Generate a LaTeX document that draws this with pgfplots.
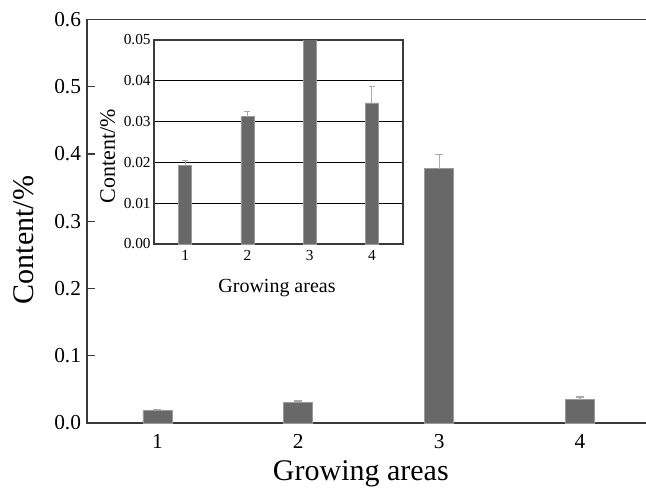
\documentclass[border=0pt]{standalone}
\usepackage{pgfplots}
\pgfplotsset{compat=1.18}
\usepackage{fontspec}
\setmainfont{Liberation Serif}
\definecolor{barfill}{HTML}{686868}
\definecolor{baredge}{HTML}{9A9A9A}
\definecolor{errc}{HTML}{ABABAB}
\definecolor{axc}{HTML}{3A3A3A}
\begin{document}
\begin{tikzpicture}
\begin{axis}[
  name=main,
  at={(0,0)}, anchor=south west,
  scale only axis,
  width=422.6pt, height=302.6pt,
  xmin=0.5, xmax=4.5, ymin=0, ymax=0.6,
  xtick={1,2,3,4}, xtick style={draw=none},
  ytick={0,0.1,0.2,0.3,0.4,0.5,0.6},
  ytick pos=left,
  tick align=inside, major tick length=6pt,
  ytick style={axc, line width=1pt},
  axis line style={axc, line width=1.4pt},
  /pgf/number format/assume math mode=true,
  yticklabel style={/pgf/number format/fixed, /pgf/number format/precision=1, /pgf/number format/fixed zerofill},
  ticklabel style={font=\fontsize{16}{19}\selectfont},
  yticklabel style={xshift=-1pt},
  xticklabel style={yshift=-5pt},
  xlabel={Growing areas},
  ylabel={Content/\%},
  xlabel style={font=\fontsize{22.5}{26}\selectfont, at={(axis description cs:0.486,-0.142)}, anchor=base},
  ylabel style={font=\fontsize{22.5}{26}\selectfont, at={(axis description cs:-0.0958,0.4535)}, anchor=base, rotate=0},
  clip=false,
]
\addplot[ybar, bar width=21.75pt, fill=barfill, draw=baredge, line width=0.5pt,
  error bars/.cd, y dir=plus, y explicit,
  error bar style={errc, line width=0.9pt},
  error mark options={rotate=90, mark size=3pt, errc, line width=0.9pt}]
  coordinates {(1,0.0192) +- (0,0.0013) (2,0.0312) +- (0,0.0014) (3,0.378) +- (0,0.021) (4,0.0346) +- (0,0.0041)};
\end{axis}
\begin{axis}[
  at={(50.25pt,134.25pt)}, anchor=south west,
  scale only axis,
  width=186.75pt, height=153pt,
  xmin=0.5, xmax=4.5, ymin=0, ymax=0.05,
  xtick={1,2,3,4}, xtick style={draw=none},
  ytick={0,0.01,0.02,0.03,0.04,0.05},
  ymajorgrids, grid style={black, line width=0.7pt},
  tick align=inside, major tick length=3pt,
  ytick style={black, line width=0.7pt},
  axis line style={axc, line width=1.1pt},
  axis background/.style={fill=white},
  /pgf/number format/assume math mode=true,
  yticklabel style={/pgf/number format/fixed, /pgf/number format/precision=2, /pgf/number format/fixed zerofill, xshift=1pt},
  scaled y ticks=false,
  ticklabel style={font=\fontsize{11.5}{13}\selectfont},
  xticklabel style={yshift=-1pt},
  xlabel={Growing areas},
  ylabel={Content/\%},
  xlabel style={font=\fontsize{15}{18}\selectfont, at={(axis description cs:0.494,-0.240)}, anchor=base},
  ylabel style={font=\fontsize{16.5}{19}\selectfont, at={(axis description cs:-0.157,0.429)}, anchor=base, rotate=0},
]
\addplot[ybar, bar width=9.75pt, fill=barfill, draw=baredge, line width=0.5pt,
  error bars/.cd, y dir=plus, y explicit,
  error bar style={errc, line width=0.7pt},
  error mark options={rotate=90, mark size=2.25pt, errc, line width=0.7pt}]
  coordinates {(1,0.0192) +- (0,0.0013) (2,0.0312) +- (0,0.0014) (3,0.378) +- (0,0.021) (4,0.0346) +- (0,0.0041)};
\end{axis}
\pgfresetboundingbox
\path[use as bounding box] (-65.25pt,-48pt) rectangle (419.25pt,317.25pt);
\end{tikzpicture}
\end{document}
